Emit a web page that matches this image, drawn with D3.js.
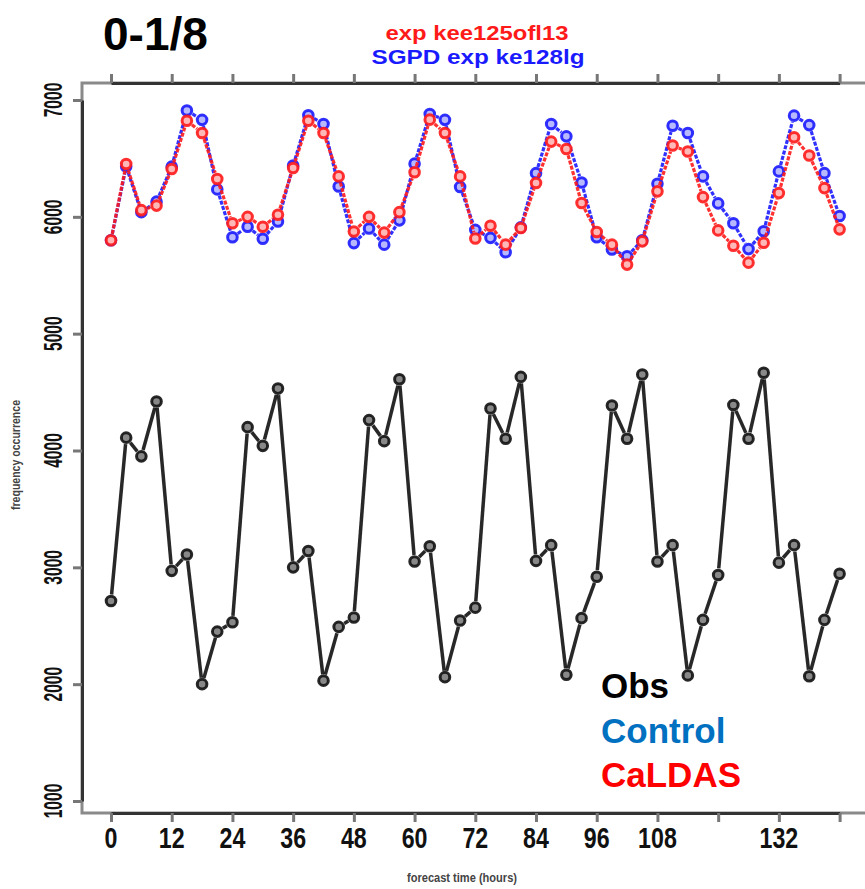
<!DOCTYPE html>
<html>
<head>
<meta charset="utf-8">
<script src="https://cdn.jsdelivr.net/npm/d3@7"></script>
<style>
  html, body { margin: 0; padding: 0; background: #fff; }
  svg { display: block; font-family: "Liberation Sans", Arial, sans-serif; }
</style>
</head>
<body>
<svg id="chart" width="865" height="889"></svg>
<script>
// ---------- data ----------
const hours = d3.range(0, 145, 3);
const obsValues = [
  2712, 4110, 3950, 4420, 2970, 3110, 2000, 2450, 2530,
  4200, 4040, 4530, 3000, 3140, 2030, 2490, 2570,
  4260, 4080, 4610, 3050, 3180, 2060, 2545, 2655,
  4360, 4100, 4630, 3055, 3190, 2080, 2565, 2920,
  4385, 4100, 4650, 3050, 3190, 2075, 2550, 2935,
  4390, 4100, 4665, 3040, 3190, 2068, 2550, 2945
];
const controlValues = [
  5800, 6430, 6040, 6130, 6430, 6910, 6830, 6235, 5825,
  5915, 5812, 5960, 6440, 6870, 6795, 6260, 5775,
  5900, 5762, 5970, 6455, 6880, 6830, 6256, 5888,
  5820, 5697, 5910, 6374, 6794, 6689, 6294, 5825,
  5720, 5663, 5800, 6283, 6780, 6718, 6346, 6115,
  5945, 5724, 5876, 6389, 6866, 6785, 6374, 6007
];
const caldasValues = [
  5800, 6452, 6057, 6096, 6410, 6823, 6718, 6324, 5945,
  6000, 5915, 6018, 6418, 6823, 6718, 6346, 5875,
  6000, 5865, 6040, 6381, 6832, 6717, 6346, 5815,
  5924, 5762, 5905, 6290, 6644, 6581, 6118, 5870,
  5762, 5591, 5790, 6218, 6610, 6559, 6169, 5884,
  5753, 5608, 5778, 6203, 6681, 6525, 6246, 5893
];
const xTickValues = [0, 12, 24, 36, 48, 60, 72, 84, 96, 108, 120, 132, 144];
const xTickLabels = ["0", "12", "24", "36", "48", "60", "72", "84", "96", "108", "", "132", ""];
const yTickValues = [1000, 2000, 3000, 4000, 5000, 6000, 7000];
const titleText = "0-1/8";
const subtitleRed = "exp kee125ofl13";
const subtitleBlue = "SGPD exp ke128lg";
const xTitle = "forecast time (hours)";
const yTitle = "frequency occurrence";
const legendItems = ["Obs", "Control", "CaLDAS"];
const legendColors = ["#000000", "#0070c0", "#ff0000"];

// ---------- layout ----------
const svg = d3.select("#chart");
const x = d3.scaleLinear().domain([0, 144]).range([111, 839.6]);
const y = d3.scaleLinear().domain([1000, 7000]).range([801, 100]);
const boxLeft = 82, boxTop = 83, boxBottom = 813, boxRight = 880;

// gray box
svg.append("path")
  .attr("d", `M${boxRight},${boxTop}H${boxLeft}V${boxBottom}H${boxRight}`)
  .attr("fill", "none").attr("stroke", "#8a8a8a").attr("stroke-width", 3);

function styleAxis(g) {
  g.select(".domain").attr("stroke", "#333").attr("stroke-width", 3);
  g.selectAll(".tick line").attr("stroke", "#777").attr("stroke-width", 3);
  g.selectAll(".tick text").remove();
}

// bottom axis
const gx = svg.append("g").attr("transform", `translate(0,${boxBottom})`)
  .call(d3.axisBottom(x).tickValues(xTickValues).tickSize(9).tickSizeOuter(0).tickFormat(""));
styleAxis(gx);
// top axis
const gt = svg.append("g").attr("transform", `translate(0,${boxTop})`)
  .call(d3.axisTop(x).tickValues(xTickValues).tickSize(9).tickSizeOuter(0).tickFormat(""));
styleAxis(gt);
// left axis
const gy = svg.append("g").attr("transform", `translate(${boxLeft},0)`)
  .call(d3.axisLeft(y).tickValues(yTickValues).tickSize(9).tickSizeOuter(0).tickFormat(""));
styleAxis(gy);

// x tick labels
svg.append("g").selectAll("text").data(xTickValues).join("text")
  .attr("transform", d => `translate(${x(d)},848) scale(0.8,1)`)
  .attr("text-anchor", "middle")
  .attr("font-size", 29).attr("font-weight", "bold").attr("fill", "#111")
  .text((d, i) => xTickLabels[i]);

// y tick labels
svg.append("g").selectAll("text").data(yTickValues).join("text")
  .attr("transform", d => `translate(62,${y(d)}) rotate(-90) scale(0.6,1)`)
  .attr("text-anchor", "middle")
  .attr("font-size", 26).attr("font-weight", "bold").attr("fill", "#111")
  .text(d => d);

// axis titles
svg.append("text").attr("x", 462).attr("y", 882)
  .attr("text-anchor", "middle").attr("font-size", 12).attr("font-weight", "bold")
  .attr("fill", "#444").attr("textLength", 110).attr("lengthAdjust", "spacingAndGlyphs")
  .text(xTitle);
svg.append("text").attr("transform", "translate(20,455) rotate(-90)")
  .attr("text-anchor", "middle").attr("font-size", 12).attr("font-weight", "bold")
  .attr("fill", "#444").attr("textLength", 110).attr("lengthAdjust", "spacingAndGlyphs")
  .text(yTitle);

// title & subtitles
svg.append("text").attr("x", 103).attr("y", 50)
  .attr("font-size", 46).attr("font-weight", "bold").attr("fill", "#000")
  .text(titleText);
svg.append("text").attr("x", 477).attr("y", 40).attr("text-anchor", "middle")
  .attr("font-size", 21).attr("font-weight", "bold").attr("fill", "#ff1a1a")
  .attr("textLength", 183).attr("lengthAdjust", "spacingAndGlyphs")
  .text(subtitleRed);
svg.append("text").attr("x", 478).attr("y", 64).attr("text-anchor", "middle")
  .attr("font-size", 21).attr("font-weight", "bold").attr("fill", "#1a1aff")
  .attr("textLength", 213).attr("lengthAdjust", "spacingAndGlyphs")
  .text(subtitleBlue);

// ---------- series (type "b": segments with gaps + open circles) ----------
const gap = 6.5, r = 4.8;
function drawSeries(values, color, lineW, dash, fill) {
  const pts = values.map((v, i) => [x(hours[i]), y(v)]);
  const segs = d3.pairs(pts).map(([a, b]) => {
    const dx = b[0] - a[0], dy = b[1] - a[1], d = Math.hypot(dx, dy);
    if (d <= 2 * gap) return null;
    const ux = dx / d, uy = dy / d;
    return [a[0] + ux * gap, a[1] + uy * gap, b[0] - ux * gap, b[1] - uy * gap];
  }).filter(s => s);
  const g = svg.append("g");
  g.selectAll("line").data(segs).join("line")
    .attr("x1", s => s[0]).attr("y1", s => s[1]).attr("x2", s => s[2]).attr("y2", s => s[3])
    .attr("stroke", color).attr("stroke-width", lineW)
    .attr("stroke-dasharray", dash).attr("stroke-opacity", 0.9);
  g.selectAll("circle").data(pts).join("circle")
    .attr("cx", p => p[0]).attr("cy", p => p[1]).attr("r", r)
    .attr("fill", fill)
    .attr("stroke", color).attr("stroke-width", 3).attr("stroke-opacity", 0.9);
}
drawSeries(obsValues, "#111", 3.5, null, "#888");
drawSeries(controlValues, "#1a1aff", 3.2, "4,1.5", "#b8b8ff");
drawSeries(caldasValues, "#ff1a1a", 3.2, "4,1.5", "#ffb8b8");

// legend
svg.append("g").selectAll("text").data(legendItems).join("text")
  .attr("x", 601).attr("y", (d, i) => 698 + i * 44.5)
  .attr("font-size", 35).attr("font-weight", "bold")
  .attr("fill", (d, i) => legendColors[i])
  .text(d => d);
</script>
</body>
</html>
